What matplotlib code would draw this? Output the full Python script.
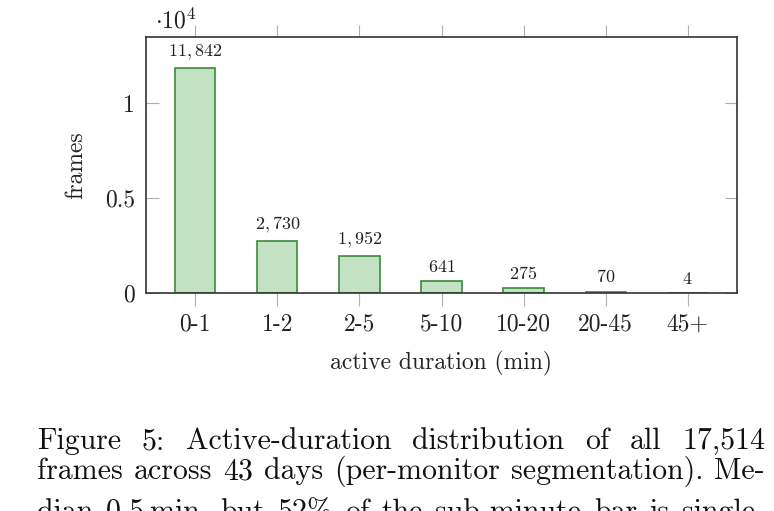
import matplotlib
matplotlib.use('Agg')
import matplotlib.pyplot as plt

# data
bins = ['0-1', '1-2', '2-5', '5-10', '10-20', '20-45', '45+']
frames = [11842, 2730, 1952, 641, 275, 70, 4]
yticks = [0, 5000, 10000]
ytick_labels = ['0', '0.5', '1']

caption = [
    'Figure 5:  Active-duration distribution of all 17,514',
    'frames across 43 days (per-monitor segmentation). Me-',
    'dian 0.5\u2009min, but 52% of the sub-minute bar is single-',
]

plt.rcParams['font.family'] = ['cmr10', 'DejaVu Serif']
plt.rcParams['mathtext.fontset'] = 'cm'
plt.rcParams['axes.formatter.use_mathtext'] = True

fig = plt.figure(figsize=(7.74, 5.11), dpi=100)
ax = fig.add_axes([146 / 774, 1 - 293 / 511, (737 - 146) / 774, (293 - 37) / 511])

x = list(range(len(bins)))
ax.bar(x, frames, width=0.49, color='#c3e1c3', edgecolor='#3b8a3b', linewidth=1.2, zorder=2)

for xi, v in zip(x, frames):
    ax.annotate('$' + format(v, ',') + '$', (xi, v), xytext=(0, 4.5), textcoords='offset points',
                ha='center', va='bottom', fontsize=13, color='#222222')

ax.set_xlim(-0.6, 6.6)
ax.set_ylim(0, 13470)
ax.set_xticks(x)
ax.set_xticklabels(bins, fontsize=17)
ax.set_yticks(yticks)
ax.set_yticklabels(ytick_labels, fontsize=17)

ax.tick_params(axis='x', direction='out', length=9, width=0.8, color='#b0b0b0',
               top=True, bottom=True, pad=6, labelcolor='#222222')
ax.tick_params(axis='y', direction='in', length=9, width=0.8, color='#b0b0b0',
               left=True, right=True, pad=8, labelcolor='#222222')

for s in ax.spines.values():
    s.set_color('#333333')
    s.set_linewidth(1.2)

ax.set_xlabel('active duration (min)', fontsize=17, labelpad=11, color='#222222')
ax.set_ylabel('frames', fontsize=17, labelpad=13, color='#222222')

fig.text(155 / 774, 1 - 21 / 511, r'$\cdot 10^4$', fontsize=17, ha='left', va='center', color='#222222')

# justified caption lines
fig.canvas.draw()
r = fig.canvas.get_renderer()
x0, x1 = 37, 765
baselines = [449, 479, 520]
for line, yb in zip(caption, baselines):
    words = line.replace('  ', ' ').split(' ')
    texts = [fig.text(0, 1 - yb / 511, w, fontsize=21.5, ha='left', va='baseline', color='#111111')
             for w in words]
    widths = [t.get_window_extent(renderer=r).width for t in texts]
    gap = (x1 - x0 - sum(widths)) / (len(words) - 1)
    pos = x0
    for t, w in zip(texts, widths):
        t.set_x(pos / 774)
        pos += w + gap

fig.savefig('out.png', dpi=100)
